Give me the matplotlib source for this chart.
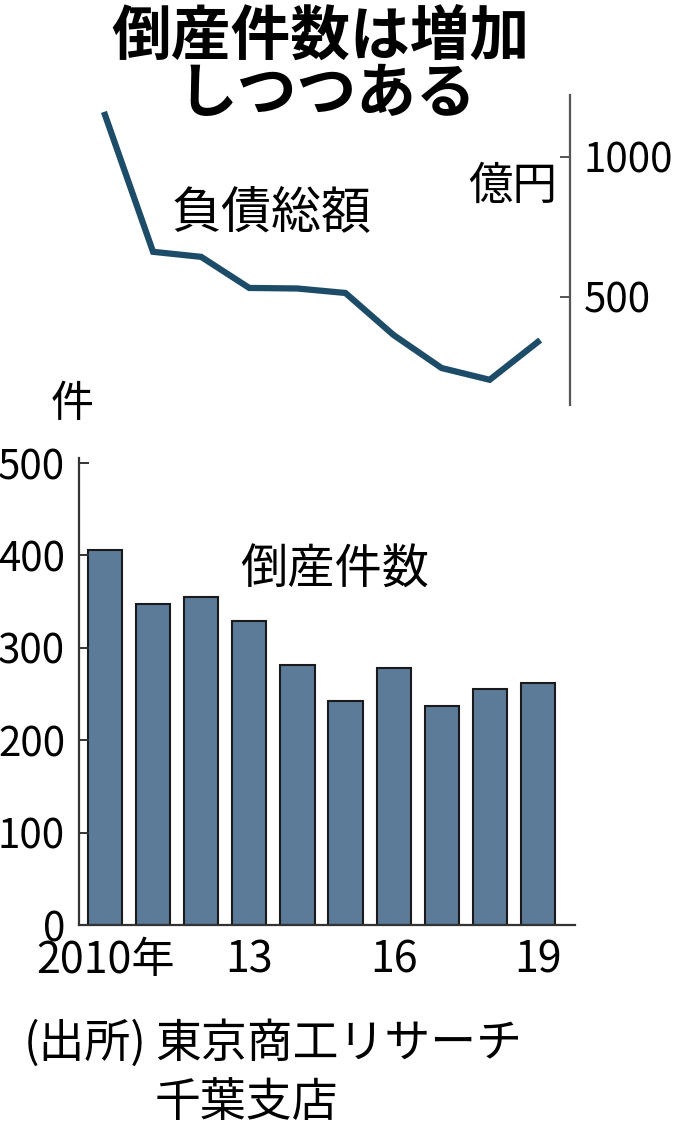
import matplotlib.pyplot as plt
import numpy as np

plt.rcParams['font.family'] = ['Noto Sans CJK JP', 'DejaVu Sans']

# data
years = np.arange(2010, 2020)
debt = [1150, 661, 643, 532, 530, 514, 364, 246, 204, 339]      # 負債総額 (億円)
counts = [406, 347, 355, 329, 281, 242, 278, 237, 256, 262]     # 倒産件数 (件)
xtick_idx = [0, 3, 6, 9]
xtick_labels = ['2010年', '13', '16', '19']

line_color = '#1d4c69'
bar_color = '#5b7b99'
axis_color = '#333333'
num_size = 29

fig = plt.figure(figsize=(6.98, 11.47), dpi=100)
x = np.arange(len(years))

# bar chart (倒産件数)
ax = fig.add_axes([0.1132, 0.1935, 0.7106, 0.4068])
ax.bar(x, counts, width=0.71, color=bar_color, edgecolor='#1a1a1a', linewidth=1.5)
ax.set_xlim(-0.54, 9.77)
ax.set_ylim(0, 505)
for s in ['top', 'right']:
    ax.spines[s].set_visible(False)
for s in ['left', 'bottom']:
    ax.spines[s].set_color(axis_color)
    ax.spines[s].set_linewidth(1.6)
ax.set_yticks([0, 100, 200, 300, 400, 500])
ax.tick_params(axis='y', direction='in', length=7, width=1.4, color=axis_color, pad=10)
ax.set_xticks(xtick_idx)
ax.set_xticklabels(xtick_labels)
ax.tick_params(axis='x', length=0, pad=10)
for lab in ax.get_yticklabels():
    lab.set_fontsize(num_size)
for lab in ax.get_xticklabels():
    lab.set_fontsize(31)

fig.text(335 / 698, 1 - 570 / 1147, '倒産件数', fontsize=34, ha='center', va='center')
fig.text(72 / 698, 1 - 405 / 1147, '件', fontsize=31, ha='center', va='center')

# line chart (負債総額)
ax2 = fig.add_axes([0.1132, 0.6469, 0.7034, 0.2703])
ax2.plot(x, debt, color=line_color, linewidth=4.5, solid_joinstyle='miter')
ax2.set_xlim(-0.54, 9.67)
ax2.set_ylim(114, 1221)
for s in ['top', 'left', 'bottom']:
    ax2.spines[s].set_visible(False)
ax2.spines['right'].set_color('#555555')
ax2.spines['right'].set_linewidth(1.6)
ax2.set_xticks([])
ax2.yaxis.tick_right()
ax2.set_yticks([500, 1000])
ax2.tick_params(axis='y', direction='in', length=7, width=1.4, color='#555555', pad=10)
for lab in ax2.get_yticklabels():
    lab.set_fontsize(num_size)

fig.text(272 / 698, 1 - 213 / 1147, '負債総額', fontsize=36, ha='center', va='center')
fig.text(513 / 698, 1 - 186 / 1147, '億円', fontsize=32, ha='center', va='center')

# title
fig.text(320 / 698, 1 - 38 / 1147, '倒産件数は増加', fontsize=43, fontweight='bold',
         ha='center', va='center')
fig.text(327 / 698, 1 - 95 / 1147, 'しつつある', fontsize=43, fontweight='bold',
         ha='center', va='center')

# source
fig.text(24 / 698, 1 - 1044 / 1147, '(出所)', fontsize=33, ha='left', va='center')
fig.text(155 / 698, 1 - 1044 / 1147, '東京商工リサーチ', fontsize=33, ha='left', va='center')
fig.text(155 / 698, 1 - 1103 / 1147, '千葉支店', fontsize=33, ha='left', va='center')

fig.savefig('out.png', dpi=100)
